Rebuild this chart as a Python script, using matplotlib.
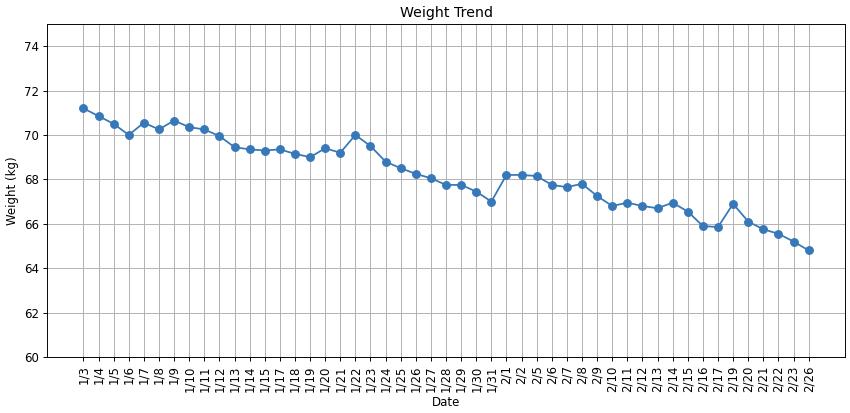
# Gewichtsverlauf Januar bis Februar

import matplotlib
matplotlib.use('Agg')
import matplotlib.pyplot as plt

# Datum und Gewicht
dates = ['1/3', '1/4', '1/5', '1/6', '1/7', '1/8', '1/9', '1/10', '1/11', '1/12',
         '1/13', '1/14', '1/15', '1/17', '1/18', '1/19', '1/20', '1/21', '1/22', '1/23',
         '1/24', '1/25', '1/26', '1/27', '1/28', '1/29', '1/30', '1/31', '2/1', '2/2',
         '2/5', '2/6', '2/7', '2/8', '2/9', '2/10', '2/11', '2/12', '2/13', '2/14',
         '2/15', '2/16', '2/17', '2/19', '2/20', '2/21', '2/22', '2/23', '2/26']
weights = [71.2, 70.85, 70.5, 70.0, 70.55, 70.25, 70.65, 70.35, 70.25, 69.95,
           69.45, 69.35, 69.3, 69.35, 69.15, 69.0, 69.4, 69.2, 70.0, 69.5,
           68.8, 68.5, 68.25, 68.05, 67.75, 67.75, 67.45, 67.0, 68.2, 68.2,
           68.15, 67.75, 67.65, 67.8, 67.25, 66.8, 66.95, 66.8, 66.7, 66.95,
           66.55, 65.9, 65.85, 66.9, 66.1, 65.75, 65.55, 65.2, 64.8]

# Abbildung erstellen (85 dpi -> 850 x 413 Pixel)
fig, ax = plt.subplots(figsize=(10, 4.859), dpi=85)
ax.plot(dates, weights, 'o-', color='#3778b8', markersize=6.5, linewidth=1.5)
ax.set_title('Weight Trend')
ax.set_xlabel('Date')
ax.set_ylabel('Weight (kg)')
ax.set_ylim(60, 75)
ax.tick_params(axis='x', rotation=90)
ax.grid(True, color='#b0b0b0', linewidth=0.8)
fig.subplots_adjust(left=0.0555, right=0.994, top=0.942, bottom=0.1356)
fig.savefig('out.png', dpi=85)
